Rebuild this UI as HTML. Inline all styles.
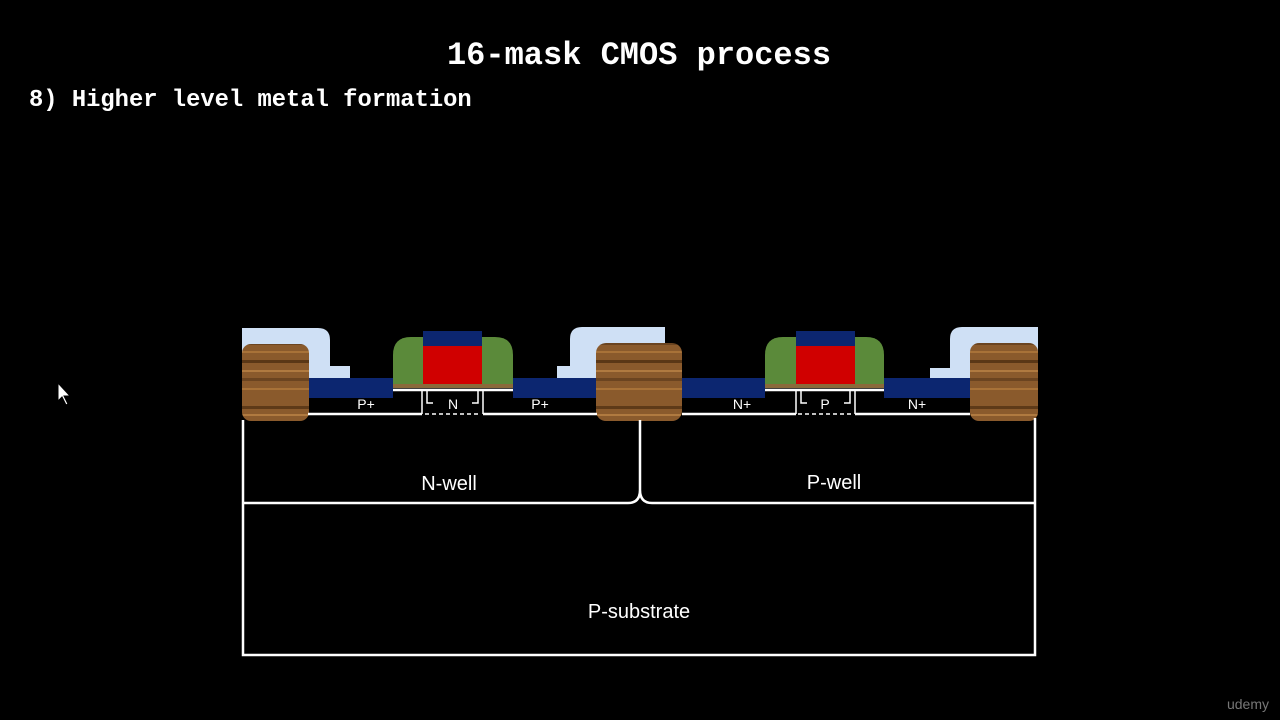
<!DOCTYPE html>
<html><head><meta charset="utf-8"><style>
body{margin:0;background:#000;width:1280px;height:720px;overflow:hidden}
svg{display:block}
.t{font-family:"Liberation Mono",monospace;font-weight:bold;fill:#fff}
.s{font-family:"Liberation Sans",sans-serif;fill:#fff}
</style></head><body>
<svg width="1280" height="720" viewBox="0 0 1280 720">
<defs>
<pattern id="wood" width="70" height="80" patternUnits="userSpaceOnUse">
<rect width="70" height="80" fill="#8a5a2c"/>
<rect y="6" width="70" height="3" fill="#5e3a18"/><rect y="14" width="70" height="2" fill="#b07a40"/>
<rect y="22" width="70" height="3" fill="#6b4420"/><rect y="31" width="70" height="2" fill="#a87238"/>
<rect y="40" width="70" height="3" fill="#5a3716"/><rect y="50" width="70" height="2" fill="#b07a40"/>
<rect y="58" width="70" height="3" fill="#6b4420"/><rect y="68" width="70" height="2" fill="#a87238"/>
</pattern>
</defs>
<text class="t" x="639" y="64" font-size="32" text-anchor="middle">16-mask CMOS process</text>
<text class="t" x="29" y="106" font-size="23.8">8) Higher level metal formation</text>

<g fill="#cfe0f5">
<path d="M242 328 H318 Q330 328 330 340 V366 H350 V380 H242 Z"/>
<path d="M582 327 H665 V380 H557 V366 H570 V339 Q570 327 582 327 Z"/>
<path d="M962 327 H1038 V380 H930 V368 H950 V339 Q950 327 962 327 Z"/>
</g>
<g fill="#0c2670">
<rect x="306" y="378" width="87" height="20"/><rect x="513" y="378" width="86" height="20"/>
<rect x="679" y="378" width="86" height="20"/><rect x="884" y="378" width="88" height="20"/>
</g>
<g fill="url(#wood)">
<rect x="242" y="344" width="67" height="77" rx="9"/>
<rect x="596" y="343" width="86" height="78" rx="10"/>
<rect x="970" y="343" width="68" height="78" rx="9"/>
</g>
<g>
<path d="M411 337 H495 Q513 337 513 355 V388 H393 V355 Q393 337 411 337 Z" fill="#5b8a3a"/>
<rect x="393" y="384" width="120" height="4" fill="#8a6a3a"/>
<rect x="423" y="346" width="59" height="38" fill="#d00000"/>
<rect x="423" y="331" width="59" height="15" fill="#0c2670"/>
</g>
<g>
<path d="M783 337 H866 Q884 337 884 355 V388 H765 V355 Q765 337 783 337 Z" fill="#5b8a3a"/>
<rect x="765" y="384" width="119" height="4" fill="#8a6a3a"/>
<rect x="796" y="346" width="59" height="38" fill="#d00000"/>
<rect x="796" y="331" width="59" height="15" fill="#0c2670"/>
</g>
<g fill="none" stroke="#fff" stroke-width="2.5">
<path d="M243 420 V655 H1035 V418"/>
<path d="M244 503 H628 Q640 503 640 490 V420 M640 490 Q640 503 652 503 H1034"/>
<path d="M308 414 H422 M483 414 H597 M393 390 H513"/>
<path d="M682 414 H796 M855 414 H970 M765 390 H884"/>
</g>
<g fill="none" stroke="#fff" stroke-width="1.5">
<path d="M422 390 V414 M427 390 V403 H433"/><path d="M483 390 V414 M478 390 V403 H472"/>
<path d="M796 390 V414 M801 390 V403 H807"/><path d="M855 390 V414 M850 390 V403 H844"/>
<path d="M425 414 H481 M798 414 H853" stroke-dasharray="4 3"/>
</g>
<g class="s" font-size="14" text-anchor="middle">
<text x="366" y="409">P+</text>
<text x="453" y="409">N</text>
<text x="540" y="409">P+</text>
<text x="742" y="409">N+</text>
<text x="825" y="409">P</text>
<text x="917" y="409">N+</text>
</g>
<g class="s" font-size="20" text-anchor="middle">
<text x="449" y="490">N-well</text>
<text x="834" y="489">P-well</text>
<text x="639" y="618">P-substrate</text>
</g>
<path d="M58 383 V401 L62 397 L66 405 L68 404 L64 396 L70 396 Z" fill="#fff" stroke="#000"/>
<text x="1248" y="709" font-size="14" fill="#777" text-anchor="middle" font-family="Liberation Sans,sans-serif">udemy</text>
</svg>
</body></html>
